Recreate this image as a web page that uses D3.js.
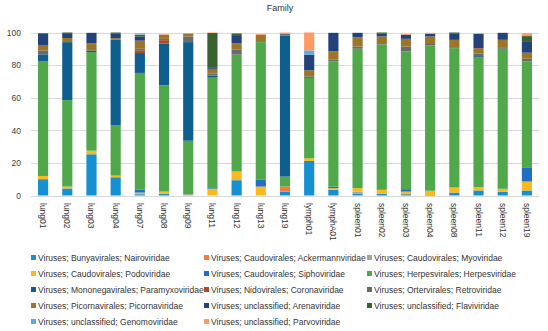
<!DOCTYPE html>
<html>
<head>
<meta charset="utf-8">
<script src="https://cdn.jsdelivr.net/npm/d3@7"></script>
<style>
  html, body { margin: 0; padding: 0; background: #fff; }
  svg { display: block; font-family: "Liberation Sans", Arial, sans-serif; }
</style>
</head>
<body>
<svg id="chart" width="548" height="331"></svg>
<script>
// Samples along the x axis
const samples = ["lung01","lung02","lung03","lung04","lung07","lung08","lung09","lung11","lung12","lung13","lung19",
  "lymph01","lymphA01","spleen01","spleen02","spleen03","spleen04","spleen08","spleen11","spleen12","spleen19"];

// Relative abundance (%) per family, one value per sample
const nairoviridae     = [10, 4.3, 25.3, 11.2, 0.8, 1, 0, 0, 9.4, 0, 2.4, 21.2, 3.5, 1, 1, 0.8, 0.3, 1.8, 3.1, 2.4, 3.1];
const ackermannviridae = [0, 0, 0, 0, 0, 0, 0, 0, 0, 0, 3.1, 0, 0, 0, 0, 0, 0, 0, 0, 0, 0];
const myoviridae       = [0, 0, 0, 0, 0, 0, 0.8, 0, 0, 0, 0, 0, 0, 1.4, 0, 0, 0, 0, 0, 0, 0];
const podoviridae      = [2, 1.2, 2.2, 1, 1, 1.4, 0, 4.1, 5.3, 5.5, 0, 1.6, 1, 2.1, 2.5, 1.6, 2.6, 3.1, 2, 1.7, 5.5];
const siphoviridae     = [0, 0, 0, 0, 1.8, 0, 0, 0.4, 0, 4.1, 0, 0, 1, 0, 0, 1.5, 0, 0, 0, 0, 8.7];
const herpesviridae    = [70.3, 53, 60.5, 31, 71.6, 65.2, 32.8, 67.8, 71.7, 84.5, 6.1, 49.3, 76.8, 85.5, 89.2, 84.5, 89.2, 85.5, 79.8, 85.9, 65];
const paramyxoviridae  = [4.3, 35.6, 1, 52.3, 12.2, 25.5, 60.5, 1.2, 0, 0, 86.6, 0, 0, 0, 0, 0, 0, 0, 0.6, 0, 0];
const coronaviridae    = [0, 0, 0, 0, 1.4, 2.2, 0, 0, 0, 0, 0, 0, 0, 0, 0, 0, 0, 0, 0, 0, 0];
const retroviridae     = [2.4, 0, 0, 0, 1.2, 0.8, 3.5, 1.2, 3, 0.6, 1, 1, 1, 1.4, 0.8, 3, 1.4, 0.6, 1.5, 1, 1.6];
const picornaviridae   = [3, 2.5, 4.5, 1, 5, 2, 1.5, 3, 4.1, 3.9, 0, 3.7, 5.1, 5.7, 4.1, 4.7, 4.1, 4.5, 3.4, 4.5, 3.7];
const arenaviridae     = [7.5, 3, 6.3, 2.7, 2.6, 0.5, 0, 1, 4.9, 0, 0, 9.6, 11.4, 2.7, 1.6, 2.5, 1.6, 3.7, 8.8, 4.3, 7.1];
const flaviviridae     = [0, 0.4, 0, 0.8, 1, 0, 0, 21, 1, 0, 0, 0, 0, 0, 0.8, 0, 0, 0.8, 0, 0, 3.1];
const genomoviridae    = [0, 0, 0, 0, 0.3, 0, 0.4, 0, 0, 0, 0, 2.6, 0, 0, 0, 0, 0, 0, 0, 0, 0];
const parvoviridae     = [0, 0, 0, 0, 0.8, 0.3, 0, 0.3, 0, 0.5, 0.8, 11, 0, 0, 0, 0.6, 0.6, 0, 0, 0, 1.8];

// Series names in stacking order (bottom to top)
const seriesNames = [
  "Viruses; Bunyavirales; Nairoviridae",
  "Viruses; Caudovirales; Ackermannviridae",
  "Viruses; Caudovirales; Myoviridae",
  "Viruses; Caudovirales; Podoviridae",
  "Viruses; Caudovirales; Siphoviridae",
  "Viruses; Herpesvirales; Herpesviridae",
  "Viruses; Mononegavirales; Paramyxoviridae",
  "Viruses; Nidovirales; Coronaviridae",
  "Viruses; Ortervirales; Retroviridae",
  "Viruses; Picornavirales; Picornaviridae",
  "Viruses; unclassified; Arenaviridae",
  "Viruses; unclassified; Flaviviridae",
  "Viruses; unclassified; Genomoviridae",
  "Viruses; unclassified; Parvoviridae"
];
const seriesValues = [nairoviridae, ackermannviridae, myoviridae, podoviridae, siphoviridae, herpesviridae,
  paramyxoviridae, coronaviridae, retroviridae, picornaviridae, arenaviridae, flaviviridae, genomoviridae, parvoviridae];
const seriesColors = ["#1591d1", "#f47a3d", "#a5a5a5", "#fdb91c", "#1f6fc3", "#50a84b",
  "#0e5e8e", "#b9461e", "#6a6a6a", "#9b7629", "#23427a", "#386230", "#56addf", "#ff9a66"];

const yTicks = [0, 20, 40, 60, 80, 100];

// Build table rows for d3.stack
const rows = samples.map((s, i) => {
  const r = { sample: s };
  seriesNames.forEach((n, k) => { r[n] = seriesValues[k][i]; });
  return r;
});

const svg = d3.select("#chart");

const x = d3.scaleBand().domain(samples).range([31, 539]).paddingInner(0.58).paddingOuter(0.29);
const y = d3.scaleLinear().domain([0, 100]).range([195.5, 32.5]);
const color = d3.scaleOrdinal().domain(seriesNames).range(seriesColors);

// Title
svg.append("text")
  .attr("x", 280).attr("y", 11)
  .attr("text-anchor", "middle")
  .attr("font-size", 9)
  .attr("fill", "#333")
  .text("Family");

// Gridlines
svg.append("g").selectAll("line").data(yTicks).join("line")
  .attr("x1", 31).attr("x2", 539)
  .attr("y1", d => Math.round(y(d)) + 0.5).attr("y2", d => Math.round(y(d)) + 0.5)
  .attr("stroke", "#d9d9d9").attr("stroke-width", 1);

// Y axis
const yAxis = svg.append("g")
  .attr("transform", "translate(25,0)")
  .call(d3.axisLeft(y).tickValues(yTicks).tickSize(0).tickPadding(4));
yAxis.select(".domain").remove();
yAxis.selectAll("text").attr("font-size", 8.5).attr("fill", "#404040").attr("font-family", "Liberation Sans, Arial, sans-serif");

// Stacked bars
const stacked = d3.stack().keys(seriesNames)(rows);
svg.append("g").selectAll("g").data(stacked).join("g")
  .attr("fill", d => color(d.key))
  .selectAll("rect").data(d => d).join("rect")
  .attr("x", d => x(d.data.sample))
  .attr("width", x.bandwidth())
  .attr("y", d => y(d[1]))
  .attr("height", d => Math.max(0, y(d[0]) - y(d[1])));

// X axis labels (rotated)
const xAxis = svg.append("g")
  .attr("transform", "translate(0,199)")
  .call(d3.axisBottom(x).tickSize(0).tickPadding(0));
xAxis.select(".domain").remove();
xAxis.selectAll("text")
  .attr("font-size", 8.5)
  .attr("fill", "#333")
  .attr("font-family", "Liberation Sans, Arial, sans-serif")
  .attr("text-anchor", "start")
  .attr("dy", null)
  .attr("y", 0)
  .attr("transform", "rotate(90) translate(4,3)");

// Legend: three columns, row-major
const legendCols = [31, 204, 367];
const legend = svg.append("g").selectAll("g").data(seriesNames).join("g")
  .attr("transform", (d, i) => `translate(${legendCols[i % 3]},${258 + Math.floor(i / 3) * 16})`);
legend.append("rect")
  .attr("x", 0).attr("y", -3).attr("width", 5).attr("height", 5)
  .attr("fill", d => color(d));
legend.append("text")
  .attr("x", 7).attr("y", 0).attr("dy", "0.35em")
  .attr("font-size", 8.5)
  .attr("fill", "#333")
  .text(d => d);
</script>
</body>
</html>
